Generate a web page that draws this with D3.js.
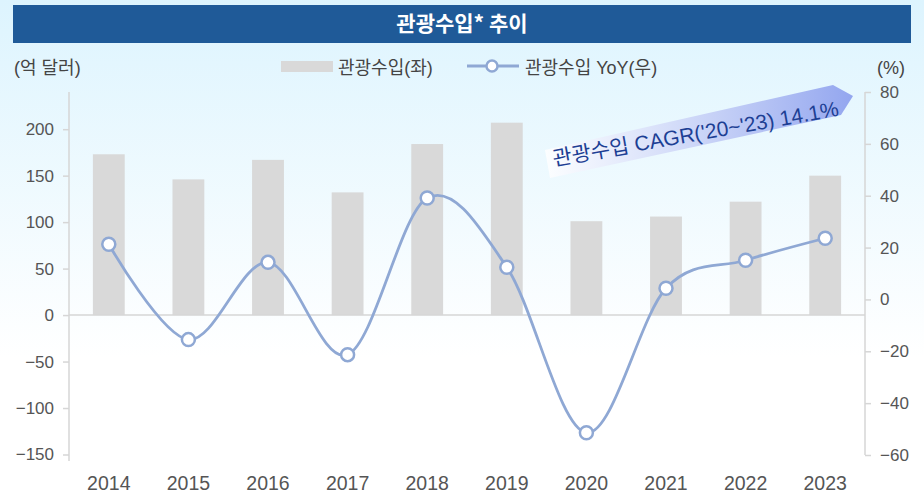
<!DOCTYPE html>
<html>
<head>
<meta charset="utf-8">
<script src="https://cdn.jsdelivr.net/npm/d3@7"></script>
<style>
  body { margin: 0; background: #fff; }
  svg text { font-family: "Liberation Sans", "Noto Sans CJK KR", sans-serif; }
</style>
</head>
<body>
<div id="chart"></div>
<script>
// data
var years = ["2014", "2015", "2016", "2017", "2018", "2019", "2020", "2021", "2022", "2023"]
var revenue = [173, 146, 167, 132, 184, 207, 101, 106, 122, 150]   // 억 달러
var yoy = [21.3, -15.5, 14.3, -21.3, 39.1, 12.4, -51.4, 4.3, 15.1, 23.6] // %
var leftTicks = [-150, -100, -50, 0, 50, 100, 150, 200]
var rightTicks = [-60, -40, -20, 0, 20, 40, 60, 80]

var W = 924, H = 497
var plotL = 69, plotR = 865, plotT = 92, plotB = 455

var svg = d3.select("#chart").append("svg")
    .attr("width", W)
    .attr("height", H)

var defs = svg.append("defs")
var bg = defs.append("linearGradient").attr("id", "bg").attr("x1", 0).attr("x2", 0).attr("y1", 0).attr("y2", 1)
bg.append("stop").attr("offset", "0%").attr("stop-color", "#ddf4fe")
bg.append("stop").attr("offset", "72%").attr("stop-color", "#ffffff")
var ban = defs.append("linearGradient").attr("id", "ban").attr("x1", 0).attr("x2", 1).attr("y1", 0).attr("y2", 0)
ban.append("stop").attr("offset", "0%").attr("stop-color", "#ffffff").attr("stop-opacity", 0.85)
ban.append("stop").attr("offset", "100%").attr("stop-color", "#93a6ef")

svg.append("rect").attr("width", W).attr("height", H).attr("fill", "url(#bg)")

// title bar
svg.append("rect").attr("x", 13).attr("y", 5).attr("width", 898).attr("height", 38).attr("fill", "#1f5a98")
svg.append("text")
    .attr("x", 462).attr("y", 31)
    .attr("text-anchor", "middle")
    .attr("fill", "#fff")
    .style("font-family", "'Noto Sans CJK KR', sans-serif")
    .style("font-size", "21px").style("font-weight", "bold")
    .text("관광수입* 추이")

// scales
var xs = d3.scaleBand().domain(years).range([plotL, plotR]).paddingInner(0.6).paddingOuter(0.3)
var xc = function(d) { return xs(d) + xs.bandwidth() / 2 }
var yl = d3.scaleLinear().domain([-150, 240]).range([plotB - 0.5, plotT])
var yr = d3.scaleLinear().domain([-60, 80]).range([plotB, plotT])

// bars
svg.append("g").selectAll("rect")
    .data(years)
    .enter()
    .append("rect")
    .attr("x", function(d) { return xs(d) })
    .attr("width", xs.bandwidth())
    .attr("y", function(d, i) { return yl(revenue[i]) })
    .attr("height", function(d, i) { return yl(0) - yl(revenue[i]) })
    .attr("fill", "#d9d9d9")

// zero line
svg.append("line")
    .attr("x1", plotL).attr("x2", plotR)
    .attr("y1", yl(0)).attr("y2", yl(0))
    .attr("stroke", "#d6d6d6").attr("stroke-width", 1.5)

// left axis
var gl = svg.append("g")
    .attr("transform", "translate(" + plotL + ",0)")
    .call(d3.axisLeft(yl).tickValues(leftTicks).tickSize(6).tickPadding(9))
gl.select(".domain").attr("d", "M0," + plotT + "V" + (plotB + 6)).attr("stroke", "#d6d6d6").attr("stroke-width", 1.5).attr("fill", "none")

// right axis
var gr = svg.append("g")
    .attr("transform", "translate(" + plotR + ",0)")
    .call(d3.axisRight(yr).tickValues(rightTicks).tickSize(6).tickPadding(9))
gr.select(".domain").attr("d", "M0," + plotT + "V" + plotB).attr("stroke", "#d6d6d6").attr("stroke-width", 1.5).attr("fill", "none")

svg.selectAll(".tick line").attr("stroke", "#d6d6d6").attr("stroke-width", 1.5)
svg.selectAll(".tick text").attr("fill", "#555").style("font-size", "17px")

// x labels
svg.append("g").selectAll("text")
    .data(years)
    .enter()
    .append("text")
    .attr("x", xc)
    .attr("y", 490)
    .attr("text-anchor", "middle")
    .attr("fill", "#555")
    .style("font-size", "19.5px")
    .text(function(d) { return d })

// yoy line (smoothed like a spreadsheet line)
var line = d3.line()
    .x(function(d, i) { return xc(years[i]) })
    .y(function(d) { return yr(d) })
    .curve(d3.curveCardinal.tension(0))
svg.append("path")
    .datum(yoy)
    .attr("d", line)
    .attr("fill", "none")
    .attr("stroke", "#8fa8d4")
    .attr("stroke-width", 2.8)
svg.append("g").selectAll("circle")
    .data(yoy)
    .enter()
    .append("circle")
    .attr("cx", function(d, i) { return xc(years[i]) })
    .attr("cy", function(d) { return yr(d) })
    .attr("r", 6.5)
    .attr("fill", "#fff")
    .attr("stroke", "#8fa8d4")
    .attr("stroke-width", 2.5)

// unit labels & legend
svg.append("text").attr("x", 14).attr("y", 74).attr("fill", "#444").style("font-size", "18px").text("(억 달러)")
svg.append("text").attr("x", 905).attr("y", 74).attr("text-anchor", "end").attr("fill", "#444").style("font-size", "18px").text("(%)")
svg.append("rect").attr("x", 281).attr("y", 61).attr("width", 52).attr("height", 11).attr("fill", "#d9d9d9")
svg.append("text").attr("x", 338).attr("y", 74).attr("fill", "#444").style("font-size", "18px").text("관광수입(좌)")
svg.append("line").attr("x1", 467).attr("x2", 519).attr("y1", 66).attr("y2", 66).attr("stroke", "#8fa8d4").attr("stroke-width", 2.8)
svg.append("circle").attr("cx", 492).attr("cy", 66).attr("r", 5.5).attr("fill", "#fff").attr("stroke", "#8fa8d4").attr("stroke-width", 2.5)
svg.append("text").attr("x", 525).attr("y", 74).attr("fill", "#444").style("font-size", "18px").text("관광수입 YoY(우)")

// CAGR banner
svg.append("polygon")
    .attr("points", "545,150 833,85 853,96 841,115 550,178")
    .attr("fill", "url(#ban)")
svg.append("text")
    .attr("transform", "translate(554,166) rotate(-10)")
    .attr("fill", "#1d3f94")
    .style("font-size", "21px")
    .text("관광수입 CAGR('20~'23) 14.1%")
</script>
</body>
</html>
